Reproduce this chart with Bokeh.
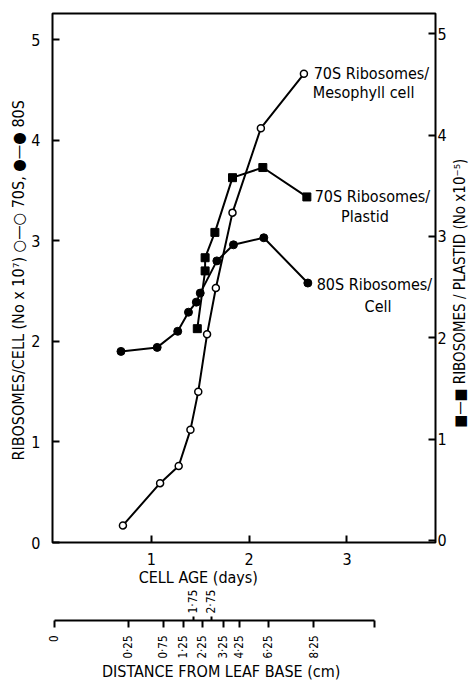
import math
from bokeh.plotting import figure
from bokeh.layouts import row
from bokeh.models import Range1d, LinearAxis, FixedTicker, Label
from bokeh.embed import file_html
from bokeh.resources import INLINE

# ---- data ----
age_70s_cell = [0.71, 1.09, 1.28, 1.40, 1.48, 1.57, 1.66, 1.83, 2.12, 2.56]
ribo_70s_cell = [0.17, 0.59, 0.76, 1.12, 1.50, 2.07, 2.53, 3.28, 4.12, 4.66]

age_80s_cell = [0.69, 1.06, 1.27, 1.38, 1.46, 1.50, 1.67, 1.84, 2.15, 2.60]
ribo_80s_cell = [1.90, 1.94, 2.10, 2.29, 2.39, 2.48, 2.80, 2.96, 3.03, 2.58]

age_70s_plastid = [1.47, 1.55, 1.55, 1.65, 1.83, 2.14, 2.59]
ribo_70s_plastid = [2.09, 2.66, 2.79, 3.04, 3.58, 3.68, 3.39]

age_ticks = [1, 2, 3]
ribo_ticks = [0, 1, 2, 3, 4, 5]

# distance-from-leaf-base scale, positioned along the cell-age scale
dist_below_pos = [0.01, 0.765, 1.122, 1.327, 1.520, 1.735, 1.898, 2.194, 2.663, 3.286]
dist_below_labels = ["0", "0·25", "0·75", "1·25", "2·25", "3·25", "4·25", "6·25", "8·25", ""]
dist_above_pos = [1.429, 1.612]
dist_above_labels = ["1·75", "2·75"]

FONT = "DejaVu Sans Condensed"
NB = "\u00a0"

H = 683
W_MAIN, W_SIDE = 449, 20
p = figure(width=W_MAIN, height=H, output_backend="svg", toolbar_location=None,
           x_range=Range1d(-0.01, 3.905), y_range=Range1d(0, 5.26),
           min_border_left=52, min_border_right=12, min_border_top=13,
           min_border_bottom=10, x_axis_location=None, y_axis_location=None)
p.extra_y_ranges = {"right": Range1d(-0.02, 5.2)}
p.grid.visible = False
p.outline_line_color = "black"
p.outline_line_width = 2
p.background_fill_color = "white"
p.border_fill_color = "white"


def style(ax, fs="16px"):
    ax.axis_line_color = None
    ax.major_tick_line_color = "black"
    ax.major_tick_line_width = 2
    ax.major_tick_in = 7
    ax.major_tick_out = 0
    ax.minor_tick_line_color = None
    ax.major_label_text_font = FONT
    ax.major_label_text_font_size = fs
    ax.major_label_text_color = "black"
    ax.axis_label_text_font = FONT
    ax.axis_label_text_font_style = "normal"
    ax.axis_label_text_font_size = "16px"
    ax.axis_label_text_color = "black"


left = LinearAxis(ticker=FixedTicker(ticks=ribo_ticks),
                  axis_label="RIBOSOMES/CELL  (No x 10⁷) ○—○ 70S, ●—● 80S")
style(left)
left.major_label_standoff = 12
left.axis_label_standoff = 0
p.add_layout(left, "left")

right = LinearAxis(ticker=FixedTicker(ticks=ribo_ticks), y_range_name="right")
style(right)
right.major_label_standoff = 2
p.add_layout(right, "right")

ax1 = LinearAxis(ticker=FixedTicker(ticks=age_ticks),
                 axis_label="CELL AGE (days)" + NB * 20)
style(ax1)
ax1.major_label_standoff = 10
ax1.axis_label_standoff = 0
p.add_layout(ax1, "below")

axA = LinearAxis(ticker=FixedTicker(ticks=dist_above_pos),
                 major_label_overrides=dict(zip(dist_above_pos, dist_above_labels)))
style(axA, "12px")
axA.major_tick_line_color = None
axA.major_tick_in = 0
axA.major_label_orientation = math.pi / 2
axA.major_label_standoff = 0
p.add_layout(axA, "below")

axA2 = LinearAxis(ticker=FixedTicker(ticks=dist_above_pos),
                  major_label_overrides={v: "" for v in dist_above_pos})
style(axA2, "0px")
axA2.major_tick_in = 0
axA2.major_tick_out = 4
axA2.major_label_standoff = 0
p.add_layout(axA2, "below")

axB = LinearAxis(ticker=FixedTicker(ticks=dist_below_pos),
                 major_label_overrides=dict(zip(dist_below_pos, dist_below_labels)),
                 axis_label="DISTANCE FROM LEAF BASE (cm)" + NB * 10)
style(axB, "11.5px")
axB.axis_line_color = "black"
axB.axis_line_width = 2
axB.bounds = (dist_below_pos[0], dist_below_pos[-1])
axB.major_tick_in = 0
axB.major_tick_out = 7
axB.major_label_orientation = math.pi / 2
axB.major_label_standoff = 8
axB.axis_label_standoff = 0
axB.axis_label_text_font_size = "16px"
p.add_layout(axB, "below")

# ---- curves ----
p.line(age_70s_cell, ribo_70s_cell, line_color="black", line_width=2)
p.scatter(age_70s_cell, ribo_70s_cell, marker="circle", size=7,
          fill_color="white", line_color="black", line_width=1.5)

p.line(age_80s_cell, ribo_80s_cell, line_color="black", line_width=2)
p.scatter(age_80s_cell, ribo_80s_cell, marker="circle", size=8,
          fill_color="black", line_color="black")

p.line(age_70s_plastid, ribo_70s_plastid, line_color="black", line_width=2,
       y_range_name="right")
p.scatter(age_70s_plastid, ribo_70s_plastid, marker="square", size=8,
          fill_color="black", line_color="black", y_range_name="right")

# ---- curve annotations ----
for x, y, t in [(2.66, 4.66, "70S Ribosomes/"), (2.65, 4.47, "Mesophyll cell"),
                (2.67, 3.44, "70S Ribosomes/"), (2.94, 3.24, "Plastid"),
                (2.69, 2.57, "80S Ribosomes/"), (3.18, 2.35, "Cell")]:
    p.add_layout(Label(x=x, y=y, text=t, text_font=FONT, text_font_size="16px",
                       text_baseline="middle", text_color="black"))

# ---- narrow side strip carrying the right-hand axis title (reads bottom-to-top) ----
q = figure(width=W_SIDE, height=H, output_backend="svg", toolbar_location=None,
           x_range=Range1d(0, W_SIDE), y_range=Range1d(0, H), min_border=0,
           x_axis_location=None, y_axis_location=None)
q.grid.visible = False
q.outline_line_color = None
q.background_fill_color = "white"
q.border_fill_color = "white"
q.add_layout(Label(x=10.5, y=322, text="■—■ RIBOSOMES / PLASTID (No x10⁻⁵)",
                   angle=math.pi / 2, text_align="center", text_baseline="middle",
                   text_font=FONT, text_font_size="15px", text_color="black"))

open("out.html", "w").write(file_html(row(p, q), INLINE))
